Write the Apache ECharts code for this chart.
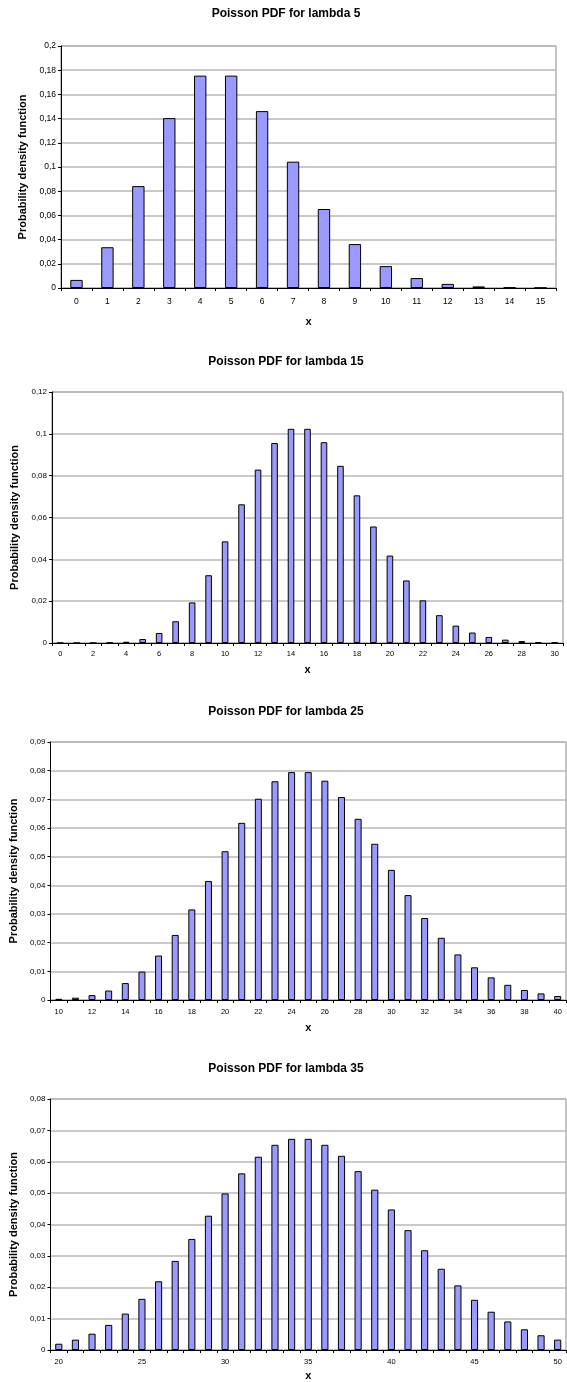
<!DOCTYPE html>
<html>
<head>
<meta charset="utf-8">
<script src="https://cdn.jsdelivr.net/npm/echarts@6/dist/echarts.min.js"></script>
<style>
  html, body { margin: 0; padding: 0; background: #fff; }
  #chart { width: 567px; height: 1382px; }
</style>
</head>
<body>
<div id="chart"></div>
<script>
// values
const xLambda5 = ['0','1','2','3','4','5','6','7','8','9','10','11','12','13','14','15'];
const pdfLambda5 = [0.0067, 0.0337, 0.0842, 0.1404, 0.1755, 0.1755, 0.1462, 0.1044,
                    0.0653, 0.0363, 0.0181, 0.0082, 0.0034, 0.0013, 0.0005, 0.0002];

const xLambda15 = ['0','1','2','3','4','5','6','7','8','9','10','11','12','13','14','15',
                   '16','17','18','19','20','21','22','23','24','25','26','27','28','29','30'];
const pdfLambda15 = [0.0000, 0.0000, 0.0000, 0.0002, 0.0006, 0.0019, 0.0048, 0.0104,
                     0.0194, 0.0324, 0.0486, 0.0663, 0.0829, 0.0956, 0.1024, 0.1024,
                     0.0960, 0.0847, 0.0706, 0.0557, 0.0418, 0.0299, 0.0204, 0.0133,
                     0.0083, 0.0050, 0.0029, 0.0016, 0.0009, 0.0004, 0.0002];

const xLambda25 = ['10','11','12','13','14','15','16','17','18','19','20','21','22','23','24','25',
                   '26','27','28','29','30','31','32','33','34','35','36','37','38','39','40'];
const pdfLambda25 = [0.0004, 0.0008, 0.0017, 0.0033, 0.0059, 0.0099, 0.0155, 0.0227,
                     0.0316, 0.0415, 0.0519, 0.0618, 0.0702, 0.0763, 0.0795, 0.0795,
                     0.0765, 0.0708, 0.0632, 0.0545, 0.0454, 0.0366, 0.0286, 0.0217,
                     0.0159, 0.0114, 0.0079, 0.0053, 0.0035, 0.0023, 0.0014];

const xLambda35 = ['20','21','22','23','24','25','26','27','28','29','30','31','32','33','34','35',
                   '36','37','38','39','40','41','42','43','44','45','46','47','48','49','50'];
const pdfLambda35 = [0.0020, 0.0033, 0.0052, 0.0080, 0.0116, 0.0163, 0.0219, 0.0284,
                     0.0354, 0.0428, 0.0499, 0.0563, 0.0616, 0.0654, 0.0673, 0.0673,
                     0.0654, 0.0619, 0.0570, 0.0511, 0.0448, 0.0382, 0.0318, 0.0259,
                     0.0206, 0.0160, 0.0122, 0.0091, 0.0066, 0.0047, 0.0033];

const titles = ['Poisson PDF for lambda 5', 'Poisson PDF for lambda 15',
                'Poisson PDF for lambda 25', 'Poisson PDF for lambda 35'];
const yMax = [0.2, 0.12, 0.09, 0.08];
const yStep = [0.02, 0.02, 0.01, 0.01];

const FONT = '"Liberation Sans", Arial, sans-serif';

const panels = [
  { x: xLambda5,  y: pdfLambda5,  titleTop: 8,    grid: { left: 61, right: 11, top: 46,   height: 242 },
    labelEvery: 0, xFont: 8.5, yFont: 8.5, labelMargin: 9, xNameGap: 28, yNameGap: 26, barW: '40%' },
  { x: xLambda15, y: pdfLambda15, titleTop: 356,  grid: { left: 52, right: 4,  top: 392,  height: 251 },
    labelEvery: 1, xFont: 7.5, yFont: 8,   labelMargin: 7, xNameGap: 21, yNameGap: 24, barW: '40%' },
  { x: xLambda25, y: pdfLambda25, titleTop: 706,  grid: { left: 48, right: 1,  top: 742,  height: 258 },
    labelEvery: 1, xFont: 7.5, yFont: 8,   labelMargin: 8, xNameGap: 22, yNameGap: 25, barW: '42%' },
  { x: xLambda35, y: pdfLambda35, titleTop: 1063, grid: { left: 49, right: 1,  top: 1099, height: 252 },
    labelEvery: 4, xFont: 7.5, yFont: 8,   labelMargin: 8, xNameGap: 20, yNameGap: 24, barW: '43%' }
];

const fmt = v => v === 0 ? '0' : String(parseFloat(v.toFixed(4))).replace('.', ',');

const option = {
  animation: false,
  backgroundColor: '#fff',
  title: [],
  grid: [],
  xAxis: [],
  yAxis: [],
  series: []
};

panels.forEach((p, i) => {
  option.title.push({
    text: titles[i],
    left: 286,
    textAlign: 'center',
    top: p.titleTop,
    padding: 0,
    textStyle: { fontFamily: FONT, fontSize: 12, fontWeight: 'bold', color: '#000' }
  });
  option.grid.push(Object.assign({
    show: true,
    borderColor: '#8a8a8a',
    borderWidth: 1,
    backgroundColor: '#fff',
    containLabel: false
  }, p.grid));
  option.xAxis.push({
    type: 'category',
    gridIndex: i,
    data: p.x,
    boundaryGap: true,
    name: 'x',
    nameLocation: 'middle',
    nameGap: p.xNameGap,
    nameTextStyle: { fontFamily: FONT, fontSize: 11, fontWeight: 'bold', color: '#000' },
    axisLine: { show: true, lineStyle: { color: '#000', width: 1 } },
    axisTick: { show: true, interval: 0, length: 3, alignWithLabel: false, lineStyle: { color: '#000' } },
    axisLabel: { interval: p.labelEvery, margin: p.labelMargin, fontFamily: FONT, fontSize: p.xFont, color: '#000' },
    splitLine: { show: false }
  });
  option.yAxis.push({
    type: 'value',
    gridIndex: i,
    min: 0,
    max: yMax[i],
    interval: yStep[i],
    name: 'Probability density function',
    nameLocation: 'middle',
    nameGap: p.yNameGap,
    nameTextStyle: { fontFamily: FONT, fontSize: 11, fontWeight: 'bold', color: '#000' },
    axisLine: { show: true, lineStyle: { color: '#000', width: 1 } },
    axisTick: { show: true, length: 3, lineStyle: { color: '#000' } },
    axisLabel: { margin: 5, fontFamily: FONT, fontSize: p.yFont, color: '#000', formatter: fmt },
    splitLine: { show: true, lineStyle: { color: '#b8b8b8', width: 1.5 } }
  });
  option.series.push({
    type: 'bar',
    xAxisIndex: i,
    yAxisIndex: i,
    data: p.y,
    barWidth: p.barW,
    itemStyle: { color: '#9999ff', borderColor: '#000', borderWidth: 1 }
  });
});

const chart = echarts.init(document.getElementById('chart'), null, { renderer: 'canvas' });
chart.setOption(option);
</script>
</body>
</html>
